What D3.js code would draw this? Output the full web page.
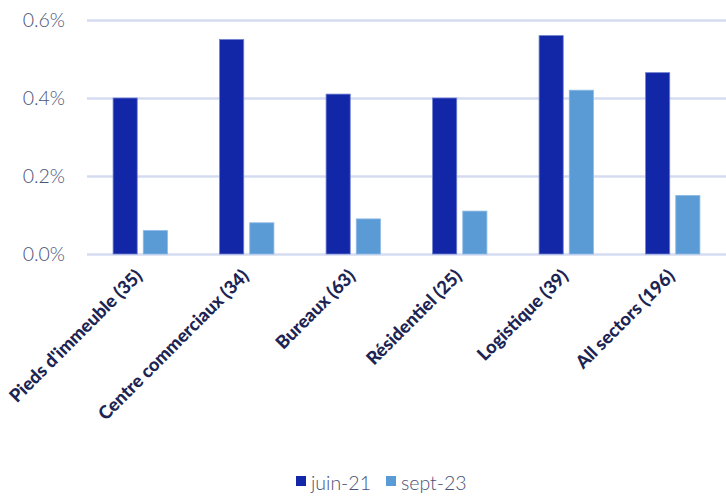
<!DOCTYPE html>
<html><head><meta charset="utf-8">
<script src="https://cdn.jsdelivr.net/npm/d3@7"></script>
<style>body{margin:0;background:#fff}svg{display:block}</style>
</head><body>
<script>
const categories = ["Pieds d'immeuble (35)","Centre commerciaux (34)","Bureaux (63)","Résidentiel (25)","Logistique (39)","All sectors (196)"];
const seriesNames = ["juin-21","sept-23"];
const juin21 = [0.40,0.55,0.41,0.40,0.56,0.465];
const sept23 = [0.06,0.08,0.09,0.11,0.42,0.15];
const tickValues = [0,0.2,0.4,0.6];
const colors = ["#1226a8","#5b9bd5"];

const W=726,H=497;
const svg=d3.select("body").append("svg").attr("width",W).attr("height",H);
const x=d3.scaleBand().domain(categories).range([87,726]).paddingInner(0.49).paddingOuter(0.245);
const xs=d3.scaleBand().domain(seriesNames).range([0,x.bandwidth()]).paddingInner(0.2);
const y=d3.scaleLinear().domain([0,0.6]).range([254,20]);

const yAxis=svg.append("g").attr("transform","translate(87,0)")
  .call(d3.axisLeft(y).tickValues(tickValues).tickSize(-639).tickFormat(d=>d3.format(".1f")(d)+"%"));
yAxis.select(".domain").remove();
yAxis.selectAll(".tick line").attr("stroke","#d5dcf0").attr("stroke-width",2.5);
yAxis.selectAll(".tick text").attr("x",-22).attr("font-family","Lato").attr("font-weight",300)
  .attr("font-size",19.5).attr("fill","#4a5276");

const data=[juin21,sept23];
const g=svg.append("g");
seriesNames.forEach((s,si)=>{
  g.selectAll(".b"+si).data(categories).join("rect")
   .attr("x",c=>x(c)+xs(s)).attr("width",xs.bandwidth())
   .attr("y",(c,i)=>y(data[si][i])).attr("height",(c,i)=>y(0)-y(data[si][i]))
   .attr("fill",colors[si]).attr("stroke",si?"#8ab8e6":"#6f7fd0").attr("stroke-width",0.8);
});

const xAxis=svg.append("g").attr("transform","translate(0,254)")
  .call(d3.axisBottom(x).tickSize(0));
xAxis.select(".domain").remove();
xAxis.selectAll(".tick text").attr("font-family","Lato").attr("font-weight",900)
  .attr("font-size",18.2).attr("fill","#1b2452").attr("text-anchor","end")
  .attr("dy",0).attr("transform","translate(1,21) rotate(-45)");

const leg=svg.append("g");
const lx=[296,386];
seriesNames.forEach((s,i)=>{
  leg.append("rect").attr("x",lx[i]).attr("y",476).attr("width",10).attr("height",10).attr("fill",colors[i]);
  leg.append("text").attr("x",lx[i]+15).attr("y",490).text(s).attr("font-family","Lato").attr("font-weight",300)
   .attr("font-size",19.5).attr("fill","#4a5276");
});
</script>
</body></html>
